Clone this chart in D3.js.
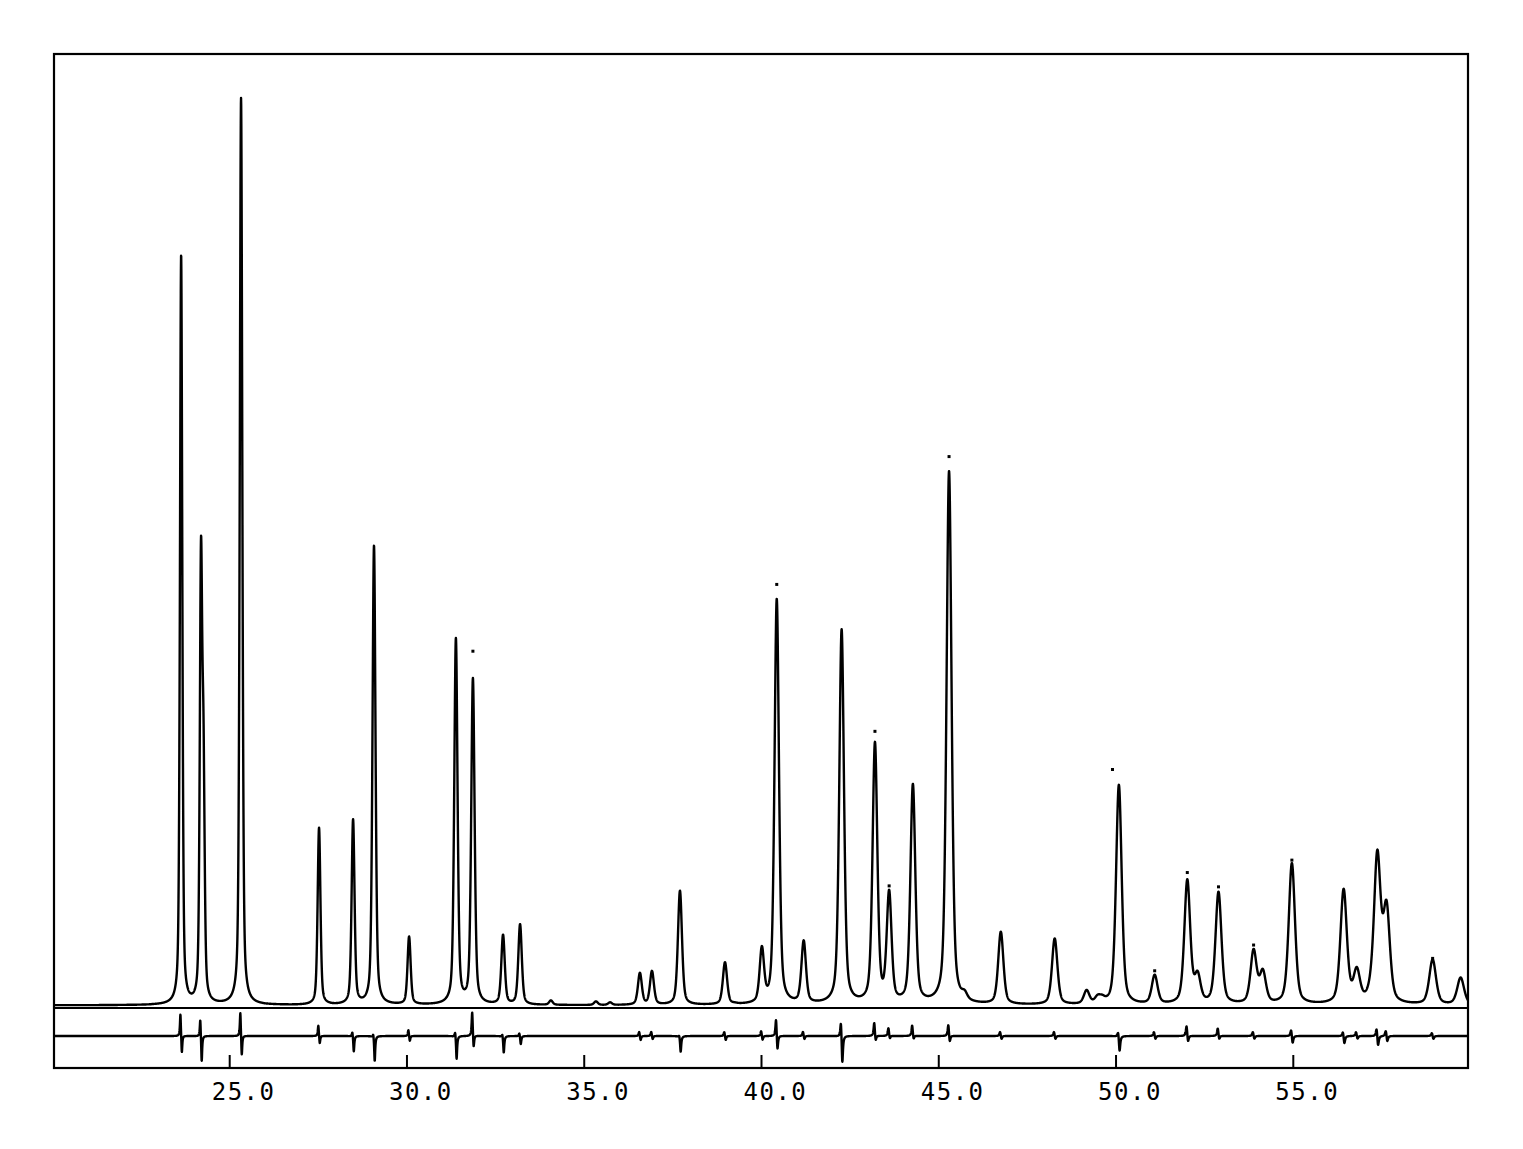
<!DOCTYPE html>
<html>
<head>
<meta charset="utf-8">
<script src="https://cdn.jsdelivr.net/npm/d3@7"></script>
<style>
html,body{margin:0;padding:0;background:#fff;}
svg{display:block;}
</style>
</head>
<body>
<svg id="chart" width="1523" height="1149"></svg>
<script>
// ---------- data ----------
const tickValues = [25, 30, 35, 40, 45, 50, 55];
const tickLabels = ["25.0", "30.0", "35.0", "40.0", "45.0", "50.0", "55.0"];

// reflection positions (2theta) and peak-top intensities (arbitrary units, 0-100)
const peakPos = [23.63, 24.19, 24.26, 25.32, 27.52, 28.48, 29.07, 30.06, 31.38, 31.86,
  32.71, 33.19, 34.06, 35.33, 35.73, 36.57, 36.91, 37.70, 38.97, 39.25,
  40.01, 40.43, 41.19, 42.26, 43.20, 43.60, 44.27, 45.29, 45.73, 46.75,
  48.27, 49.17, 49.48, 49.61, 50.08, 51.09, 52.01, 52.30, 52.89, 53.88,
  54.14, 54.82, 54.96, 56.42, 56.79, 57.18, 57.37, 57.63, 58.93, 59.72];
const peakTop = [79.0, 49.3, 31.0, 95.4, 18.9, 19.8, 48.5, 7.5, 38.8, 34.6,
  7.7, 8.8, 0.8, 0.7, 0.6, 3.7, 3.9, 12.3, 4.8, 0.6,
  6.5, 42.9, 7.1, 39.7, 27.9, 12.4, 23.5, 56.3, 1.9, 8.0,
  7.3, 1.9, 1.4, 1.4, 23.4, 3.5, 13.5, 3.9, 12.2, 6.2,
  4.1, 2.9, 15.2, 12.5, 4.3, 4.1, 16.6, 11.3, 5.1, 3.2];
const background = 0.3;

// observed points standing above the calculated curve
const obsPos = [31.86, 40.43, 43.20, 43.60, 45.29, 49.90, 51.09, 52.01, 52.89, 53.88, 54.96, 58.93];
const obsInt = [37.4, 44.4, 29.0, 12.8, 57.8, 25.0, 3.9, 14.2, 12.7, 6.6, 15.5, 5.2];

// difference curve: position, upward excursion, downward excursion
const diffPos = [23.63, 24.19, 25.32, 27.52, 28.48, 29.07, 30.06, 31.38, 31.86, 32.71,
  33.19, 36.57, 36.91, 37.70, 38.97, 40.01, 40.43, 41.19, 42.26, 43.20,
  43.60, 44.27, 45.29, 46.75, 48.27, 50.08, 51.09, 52.01, 52.89, 53.88,
  54.96, 56.42, 56.79, 57.37, 57.63, 58.93];
const diffUp = [2.5, 2.0, 2.7, 1.2, 0.6, 0.5, 0.7, 0.7, 2.7, 0.4,
  0.4, 0.5, 0.5, 0.3, 0.5, 0.6, 2.0, 0.5, 1.9, 1.5,
  0.9, 1.2, 1.3, 0.5, 0.5, 0.7, 0.5, 1.2, 0.9, 0.5,
  0.8, 0.6, 0.5, 1.0, 0.7, 0.4];
const diffDown = [2.0, 2.9, 2.3, 0.9, 1.7, 2.7, 0.6, 2.5, 1.5, 1.8,
  0.9, 0.5, 0.4, 1.7, 0.5, 0.5, 1.7, 0.4, 3.1, 0.7,
  0.4, 0.5, 0.8, 0.4, 0.4, 1.7, 0.4, 0.8, 0.5, 0.4,
  0.9, 0.9, 0.4, 1.2, 0.7, 0.4];

// ---------- scales ----------
const svg = d3.select("#chart");
const frame = {left: 54, right: 1468, top: 54, bottom: 1068};
const x = d3.scaleLinear().domain([25, 55]).range([229.7, 1293.3]);
const xMin = x.invert(frame.left), xMax = x.invert(frame.right);
const y = d3.scaleLinear().domain([0, 100]).range([1008, 54]);
const yDiff = d3.scaleLinear().domain([-3.2, 3.2]).range([1036 + 30.5, 1036 - 30.5]);

// ---------- profile model (pseudo-Voigt peaks) ----------
function fwhm(t) { return 0.062 + 0.0042 * (t - 20); }
function pv(t, p, w) {
  const d = (t - p) / w;
  const L = 1 / (1 + 4 * d * d);
  const G = Math.exp(-4 * Math.LN2 * d * d);
  return 0.45 * L + 0.55 * G;
}
let amp = peakTop.slice();
function profile(t, a) {
  let s = background;
  for (let i = 0; i < peakPos.length; i++) {
    const w = fwhm(peakPos[i]);
    if (Math.abs(t - peakPos[i]) < 30 * w) s += a[i] * pv(t, peakPos[i], w);
  }
  return s;
}
for (let it = 0; it < 6; it++) {
  const cur = peakPos.map(p => profile(p, amp));
  amp = amp.map((a, i) => Math.max(0.05, a + (peakTop[i] - cur[i]) * 0.8));
}
const step = 0.004;
const grid = d3.range(xMin, xMax, step);
const calc = grid.map(t => [t, profile(t, amp)]);

function diffVal(t) {
  let s = 0;
  for (let i = 0; i < diffPos.length; i++) {
    const w = 0.05 + 0.001 * (diffPos[i] - 20);
    const dUp = (t - (diffPos[i] - 0.02)) / w;
    const dDn = (t - (diffPos[i] + 0.02)) / w;
    s += diffUp[i] / (1 + 12 * dUp * dUp) - diffDown[i] / (1 + 12 * dDn * dDn);
  }
  return s;
}
const diff = grid.map(t => [t, diffVal(t)]);

// ---------- drawing ----------
svg.append("rect")
  .attr("x", frame.left).attr("y", frame.top)
  .attr("width", frame.right - frame.left).attr("height", frame.bottom - frame.top)
  .attr("fill", "none").attr("stroke", "#000").attr("stroke-width", 2.2);

svg.append("line")
  .attr("x1", frame.left).attr("x2", frame.right)
  .attr("y1", y(0)).attr("y2", y(0))
  .attr("stroke", "#000").attr("stroke-width", 2);

svg.append("clipPath").attr("id", "clip")
  .append("rect").attr("x", frame.left).attr("y", frame.top)
  .attr("width", frame.right - frame.left).attr("height", frame.bottom - frame.top);

const g = svg.append("g").attr("clip-path", "url(#clip)");

g.append("path")
  .datum(calc)
  .attr("fill", "none").attr("stroke", "#000").attr("stroke-width", 2.4)
  .attr("stroke-linejoin", "round")
  .attr("d", d3.line().x(d => x(d[0])).y(d => y(d[1])));

g.selectAll("rect.obs")
  .data(obsPos.map((p, i) => [p, obsInt[i]]))
  .join("rect").attr("class", "obs")
  .attr("x", d => x(d[0]) - 1.5).attr("y", d => y(d[1]) - 1.5)
  .attr("width", 3).attr("height", 3).attr("fill", "#000");

g.append("path")
  .datum(diff)
  .attr("fill", "none").attr("stroke", "#000").attr("stroke-width", 2.4)
  .attr("stroke-linejoin", "round")
  .attr("d", d3.line().x(d => x(d[0])).y(d => yDiff(d[1])));

const axis = svg.append("g");
axis.selectAll("line.tick")
  .data(tickValues)
  .join("line").attr("class", "tick")
  .attr("x1", d => x(d)).attr("x2", d => x(d))
  .attr("y1", frame.bottom).attr("y2", frame.bottom - 13)
  .attr("stroke", "#000").attr("stroke-width", 2);

axis.selectAll("text.lbl")
  .data(tickValues)
  .join("text").attr("class", "lbl")
  .attr("x", d => x(d) - 18)
  .attr("y", 1100)
  .attr("font-family", "DejaVu Sans Mono, monospace")
  .attr("font-size", 24)
  .attr("letter-spacing", 1.5)
  .attr("fill", "#000")
  .text((d, i) => tickLabels[i]);
</script>
</body>
</html>
